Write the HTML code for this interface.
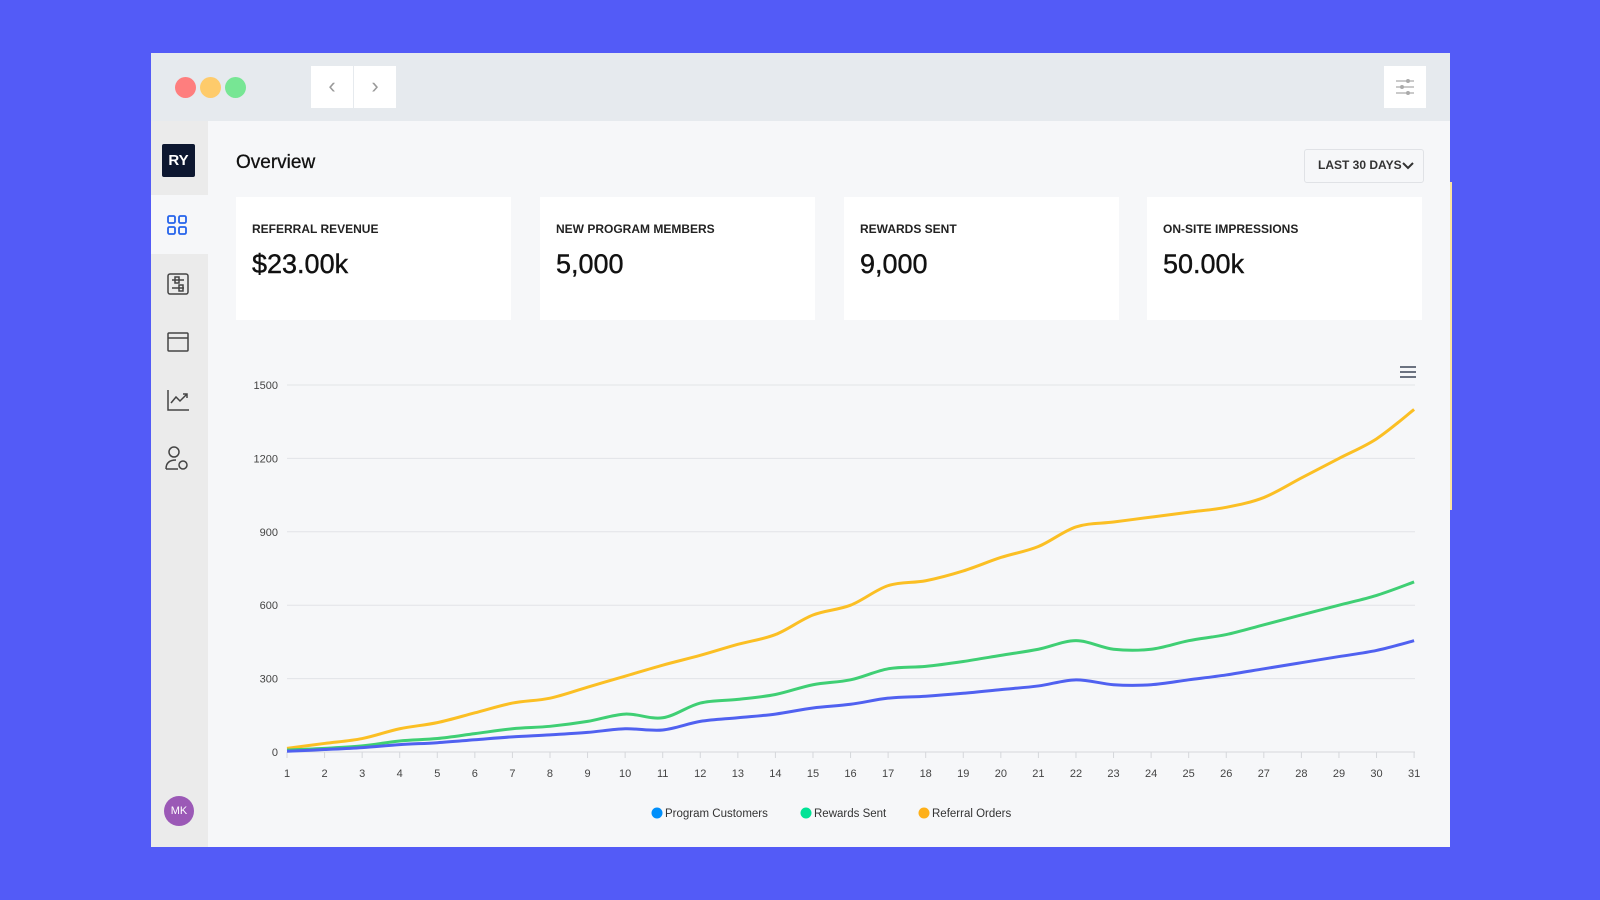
<!DOCTYPE html>
<html><head><meta charset="utf-8"><style>
*{margin:0;padding:0;box-sizing:border-box}
body{width:1600px;height:900px;background:#535bf7;font-family:"Liberation Sans",Arial,sans-serif;position:relative;overflow:hidden}
.win{position:absolute;left:151px;top:53px;width:1299px;height:794px;background:#f6f7f9}
.tb{position:absolute;left:0;top:0;width:1299px;height:68px;background:#e6eaee}
.dot{position:absolute;top:24px;width:21px;height:21px;border-radius:50%}
.btn{position:absolute;background:#fff;width:42px;height:42px;top:13px;color:#999;font-size:22px;text-align:center;line-height:40px}
.side{position:absolute;left:0;top:68px;width:57px;height:726px;background:#ebebeb}
.card{position:absolute;top:144px;width:275px;height:123px;background:#fff}
.card .l{position:absolute;left:16px;top:25px;font-size:12px;font-weight:bold;color:#222}
.card .v{position:absolute;left:16px;top:52px;font-size:27px;color:#111;-webkit-text-stroke:0.4px #111}
</style></head><body>
<div class="win">
<div class="tb">
<div class="dot" style="left:24px;background:#fe7e7e"></div>
<div class="dot" style="left:49px;background:#fecb6b"></div>
<div class="dot" style="left:74px;background:#77e694"></div>
<div class="btn" style="left:160px">&#8249;</div>
<div class="btn" style="left:203px">&#8250;</div>
<div class="btn" style="left:1233px"><svg width="42" height="42"><g stroke="#aaa" stroke-width="1.3"><line x1="12" y1="15" x2="30" y2="15"/><line x1="12" y1="21" x2="30" y2="21"/><line x1="12" y1="27" x2="30" y2="27"/></g><g fill="#aaa"><circle cx="24" cy="15" r="2"/><circle cx="18" cy="21" r="2"/><circle cx="24" cy="27" r="2"/></g></svg></div>
</div>
<div class="side">
<div style="position:absolute;left:11px;top:23px;width:33px;height:33px;background:#0d1730;border-radius:2px;color:#fff;font-weight:bold;font-size:15px;text-align:center;line-height:33px">RY</div>
<div style="position:absolute;left:0;top:74px;width:57px;height:59px;background:#f6f7f9"></div>
<svg style="position:absolute;left:0;top:74px" width="57" height="420">
<g fill="none" stroke="#2563eb" stroke-width="1.8"><rect x="17" y="21" width="7" height="7" rx="1.5"/><rect x="28" y="21" width="7" height="7" rx="1.5"/><rect x="17" y="32" width="7" height="7" rx="1.5"/><rect x="28" y="32" width="7" height="7" rx="1.5"/></g>
<g fill="none" stroke="#444" stroke-width="1.5">
<rect x="17" y="79" width="20" height="20" rx="2"/><line x1="21" y1="85" x2="33" y2="85"/><line x1="21" y1="93" x2="33" y2="93"/><rect x="24" y="82" width="4" height="6"/><rect x="28" y="90" width="4" height="6"/>
<rect x="17" y="138" width="20" height="18" rx="1"/><line x1="17" y1="143" x2="37" y2="143"/>
<polyline points="17,195 17,215 38,215"/><polyline points="20,208 25,202 29,206 36,199"/><polyline points="32,199 36,199 36,203"/>
<circle cx="23" cy="257" r="5"/><path d="M15,274 q0,-9 10,-9"/><line x1="15" y1="274" x2="27" y2="274"/><circle cx="32" cy="270" r="4"/>
</g></svg>
<div style="position:absolute;left:13px;top:675px;width:30px;height:30px;border-radius:50%;background:#9b59b6;color:#fff;font-size:11px;text-align:center;line-height:30px">MK</div>
</div>
<div style="position:absolute;left:85px;top:99px;font-size:19px;color:#111;-webkit-text-stroke:0.3px #111">Overview</div>
<div style="position:absolute;left:1153px;top:96px;width:120px;height:34px;border:1.5px solid #e0e2e6;border-radius:3px;font-size:12px;font-weight:bold;color:#333;line-height:31px;padding-left:13px">LAST 30 DAYS <svg style="position:absolute;right:9px;top:12px" width="12" height="8"><polyline points="1,1 6,6 11,1" fill="none" stroke="#333" stroke-width="2"/></svg></div>
<div class="card" style="left:85px"><div class="l">REFERRAL REVENUE</div><div class="v">$23.00k</div></div>
<div class="card" style="left:389px"><div class="l">NEW PROGRAM MEMBERS</div><div class="v">5,000</div></div>
<div class="card" style="left:693px"><div class="l">REWARDS SENT</div><div class="v">9,000</div></div>
<div class="card" style="left:996px"><div class="l">ON-SITE IMPRESSIONS</div><div class="v">50.00k</div></div>
</div>
<div style="position:absolute;left:1450px;top:182px;width:2px;height:328px;background:#fbe3a0"></div>
<svg id="ch" style="position:absolute;left:0;top:0" width="1600" height="900"></svg>
<script>
var O=[15,35,55,95,120,160,200,220,265,310,355,395,440,480,560,600,680,700,740,795,840,920,940,960,980,1000,1040,1120,1200,1280,1400];
var G=[8,15,25,45,55,75,95,105,125,155,140,200,215,235,275,295,340,350,370,395,420,455,420,420,455,480,520,560,600,640,695];
var B=[3,10,18,30,38,50,62,70,80,95,90,125,140,155,180,195,220,228,240,255,270,295,275,275,295,315,340,365,390,415,455];
function X(i){return 287+i*37.57}function Y(v){return 752-v*0.24467}
var s='';
for(var k=0;k<=5;k++){var v=k*300,y=Y(v);s+='<line x1="287" x2="1415" y1="'+y+'" y2="'+y+'" stroke="'+(k?'#e2e4e8':'#d5d7db')+'" stroke-width="1"/><text x="278" y="'+(y+4)+'" text-anchor="end" font-size="11" fill="#444" font-family="Liberation Sans,sans-serif">'+v+'</text>';}
for(var i=0;i<31;i++){var x=X(i);s+='<line x1="'+x+'" x2="'+x+'" y1="752" y2="758" stroke="#d5d7db"/><text x="'+x+'" y="777" text-anchor="middle" font-size="11" fill="#444" font-family="Liberation Sans,sans-serif">'+(i+1)+'</text>';}
function P(d){var p=d.map(function(v,i){return[X(i),Y(v)]});var r='M'+p[0][0]+','+p[0][1];for(var i=0;i<p.length-1;i++){var a=p[i-1]||p[i],b=p[i],c=p[i+1],e=p[i+2]||c;r+=' C'+(b[0]+(c[0]-a[0])/6)+','+(b[1]+(c[1]-a[1])/6)+' '+(c[0]-(e[0]-b[0])/6)+','+(c[1]-(e[1]-b[1])/6)+' '+c[0]+','+c[1];}return r}
s+='<path d="'+P(O)+'" fill="none" stroke="#fbbf24" stroke-width="3"/>';
s+='<path d="'+P(G)+'" fill="none" stroke="#3fcf74" stroke-width="3"/>';
s+='<path d="'+P(B)+'" fill="none" stroke="#5061f0" stroke-width="3"/>';
s+='<g stroke="#6b7280" stroke-width="2"><line x1="1400" x2="1416" y1="367" y2="367"/><line x1="1400" x2="1416" y1="372" y2="372"/><line x1="1400" x2="1416" y1="377" y2="377"/></g>';
var L=[[657,'#008ffb','Program Customers'],[806,'#00e396','Rewards Sent'],[924,'#feb019','Referral Orders']];
L.forEach(function(l){s+='<circle cx="'+l[0]+'" cy="813" r="5.5" fill="'+l[1]+'"/><text x="'+(l[0]+8)+'" y="817" font-size="11.5" fill="#333" font-family="Liberation Sans,sans-serif">'+l[2]+'</text>'});
document.getElementById('ch').innerHTML=s;
</script>
</body></html>
